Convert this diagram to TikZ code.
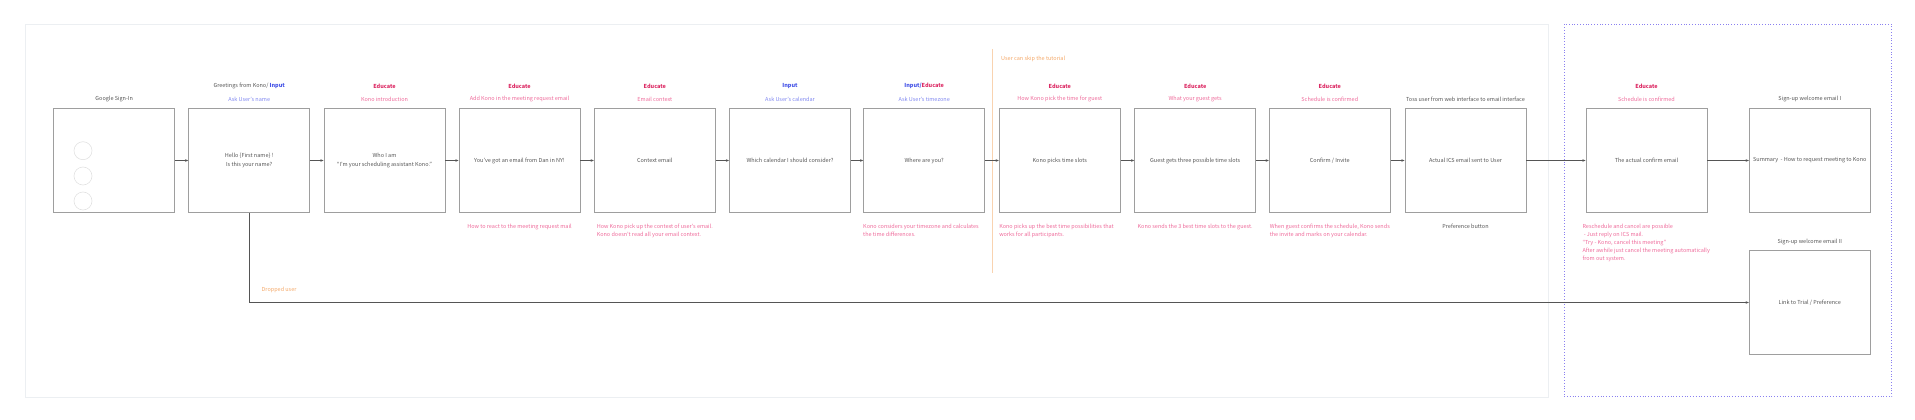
\documentclass[tikz,border=0pt]{standalone}
\usepackage{fontspec}
\setmainfont{Noto Sans CJK KR}
\usetikzlibrary{arrows.meta}
\definecolor{boxgray}{HTML}{9E9E9E}
\definecolor{txtgray}{HTML}{555555}
\definecolor{edu}{HTML}{DC2A64}
\definecolor{edulight}{HTML}{EE6A9A}
\definecolor{inp}{HTML}{4150E6}
\definecolor{inplight}{HTML}{8088F0}
\definecolor{orng}{HTML}{F4A96A}
\definecolor{orngline}{HTML}{F9D3B0}
\definecolor{framec}{HTML}{ECEFF2}
\definecolor{dashblue}{HTML}{8A80F0}
\definecolor{circc}{HTML}{E2E2E2}
\newcommand\kfs{\fontsize{5.5pt}{8.2pt}\selectfont}
\tikzset{
  scr/.style={draw=boxgray, line width=0.9pt, minimum width=121pt, minimum height=103.6pt, inner sep=0pt, font=\kfs, text=txtgray, align=center},
  cat/.style={font=\kfs\bfseries, inner sep=0pt},
  sub/.style={font=\kfs, inner sep=0pt},
  desc/.style={font=\kfs, inner sep=0pt, anchor=north, align=left, text=edulight},
  arr/.style={draw=txtgray, line width=0.6pt, -{Stealth[length=3.2pt,width=2.6pt]}},
  circ/.style={draw=circc, line width=0.6pt},
}
\begin{document}
\begin{tikzpicture}[x=1pt,y=-1pt]
\useasboundingbox (0,0) rectangle (1915,420);
% frames
\draw[framec, line width=0.9pt] (25,24) rectangle (1548.7,397);
\draw[dashblue, dotted, line width=0.8pt] (1564,24.4) rectangle (1891.7,396.7);
% skip line
\draw[orngline, line width=0.9pt] (992.3,49) -- (992.3,272.7);
\node[sub, anchor=west, text=orng] (skip) at (1001,59.3) {User can skip the tutorial};
% boxes
\node[scr] (b1) at (114.2,160.5) {};
\node[scr] (b2) at (249.2,160.5) {Hello \{First name\} !\\Is this your name?};
\node[scr] (b3) at (384.5,160.5) {Who I am\\``I’m your scheduling assistant Kono.''};
\node[scr] (b4) at (519.5,160.5) {You’ve got an email from Dan in NY!};
\node[scr] (b5) at (654.8,160.5) {Context email};
\node[scr] (b6) at (790,160.5) {Which calendar I should consider?};
\node[scr] (b7) at (924.2,160.5) {Where are you?};
\node[scr] (b8) at (1059.8,160.5) {Kono picks time slots};
\node[scr] (b9) at (1195.2,160.5) {Guest gets three possible time slots};
\node[scr] (b10) at (1329.8,160.5) {Confirm / Invite};
\node[scr] (b11) at (1465.5,160.5) {Actual ICS email sent to User};
\node[scr] (b12) at (1646.5,160.5) {The actual confirm email};
\node[scr] (b13) at (1809.8,160.5) {Summary\ \ - How to request meeting to Kono};
\node[scr] (b14) at (1809.8,302.5) {Link to Trial / Preference};
% google circles
\draw[circ] (83,150.7) circle (9);
\draw[circ] (83,176) circle (9);
\draw[circ] (83,201) circle (9);
% headers row 1
\node[cat] (c2) at (249.2,86.3) {\mdseries\color{txtgray}Greetings from Kono/ \bfseries\color{inp}Input};
\node[cat, text=edu] (c3) at (384.5,86.3) {Educate};
\node[cat, text=edu] (c4) at (519.5,86.3) {Educate};
\node[cat, text=edu] (c5) at (654.8,86.3) {Educate};
\node[cat, text=inp] (c6) at (790,86.3) {Input};
\node[cat] (c7) at (924.2,86.3) {\color{inp}Input/\color{edu}Educate};
\node[cat, text=edu] (c8) at (1059.8,86.3) {Educate};
\node[cat, text=edu] (c9) at (1195.2,86.3) {Educate};
\node[cat, text=edu] (c10) at (1329.8,86.3) {Educate};
\node[cat, text=edu] (c12) at (1646.5,86.3) {Educate};
% headers row 2
\node[sub, text=txtgray] (s1) at (114.2,99) {Google Sign-In};
\node[sub, text=inplight] (s2) at (249.2,99) {Ask User’s name};
\node[sub, text=edulight] (s3) at (384.5,99) {Kono introduction};
\node[sub, text=edulight] (s4) at (519.5,99) {Add Kono in the meeting request email};
\node[sub, text=edulight] (s5) at (654.8,99) {Email context};
\node[sub, text=inplight] (s6) at (790,99) {Ask User’s calendar};
\node[sub, text=inplight] (s7) at (924.2,99) {Ask User’s timezone};
\node[sub, text=edulight] (s8) at (1059.8,99) {How Kono pick the time for guest};
\node[sub, text=edulight] (s9) at (1195.2,99) {What your guest gets};
\node[sub, text=edulight] (s10) at (1329.8,99) {Schedule is confirmed};
\node[sub, text=txtgray] (s11) at (1465.5,99) {Toss user from web interface to email interface};
\node[sub, text=edulight] (s12) at (1646.5,99) {Schedule is confirmed};
\node[sub, text=txtgray] (s13) at (1809.8,99) {Sign-up welcome email I};
\node[sub, text=txtgray] (s14) at (1809.8,241.7) {Sign-up welcome email II};
% descriptions
\node[desc] (d4) at (519.5,223.5) {How to react to the meeting request mail};
\node[desc] (d5) at (654.8,223.5) {How Kono pick up the context of user’s email.\\Kono doesn’t read all your email context.};
\node[desc] (d7) at (921,223.5) {Kono considers your timezone and calculates\\the time differences.};
\node[desc] (d8) at (1056.5,223.5) {Kono picks up the best time possibilities that\\works for all participants.};
\node[desc] (d9) at (1195.2,223.5) {Kono sends the 3 best time slots to the guest.};
\node[desc] (d10) at (1329.8,223.5) {When guest confirms the schedule, Kono sends\\the invite and marks on your calendar.};
\node[desc, text=txtgray] (d11) at (1465.5,223.5) {Preference button};
\node[desc] (d12) at (1646.2,223.5) {Reschedule and cancel are possible\\\ - Just reply on ICS mail.\\``Try - Kono, cancel this meeting''\\After awhile just cancel the meeting automatically\\from out system.};
\node[sub, anchor=west, text=orng] (drop) at (261.5,290) {Dropped user};
% connectors
\draw[arr] (b1) -- (b2);
\draw[arr] (b2) -- (b3);
\draw[arr] (b3) -- (b4);
\draw[arr] (b4) -- (b5);
\draw[arr] (b5) -- (b6);
\draw[arr] (b6) -- (b7);
\draw[arr] (b7) -- (b8);
\draw[arr] (b8) -- (b9);
\draw[arr] (b9) -- (b10);
\draw[arr] (b10) -- (b11);
\draw[arr] (b11) -- (b12);
\draw[arr] (b12) -- (b13);
\draw[arr] (b2.south) |- (b14.west);
\end{tikzpicture}
\end{document}
